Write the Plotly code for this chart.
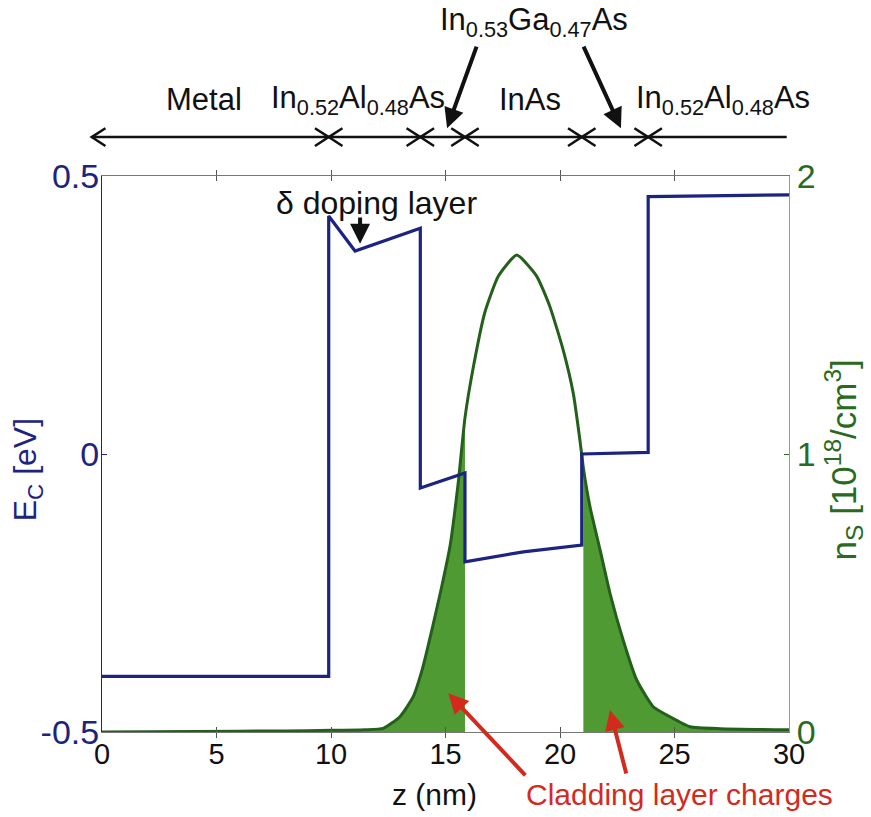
import plotly.graph_objects as go

# ---- conduction band edge E_C (eV) vs depth z (nm) ----
ec_z = [0, 9.9, 9.9, 11.05, 13.9, 13.9, 15.85, 15.85, 18.4, 20.95, 20.95, 23.85, 23.85, 30]
ec_val = [-0.40, -0.40, 0.428, 0.365, 0.406, -0.061, -0.034, -0.194, -0.176, -0.164, 0.0, 0.003, 0.463, 0.466]

# ---- electron density n_S (1e18 / cm^3) vs depth z (nm) ----
ns_z = [0, 4, 8, 10, 11.5, 12.28, 13.01, 13.59, 14.0, 14.47, 14.8, 15.2, 15.56, 15.85,
        16.21, 16.72, 17.31, 18.11, 18.98, 19.56, 20.14, 20.58, 20.87, 21.02, 21.31,
        21.75, 22.18, 22.76, 23.35, 24.07, 24.8, 25.68, 27.0, 30]
ns_val = [0.0, 0.002, 0.004, 0.006, 0.008, 0.013, 0.055, 0.127, 0.23, 0.39, 0.51, 0.67, 0.9, 1.13,
          1.31, 1.51, 1.64, 1.716, 1.64, 1.53, 1.374, 1.218, 1.05, 0.95, 0.81,
          0.655, 0.5, 0.33, 0.187, 0.091, 0.055, 0.019, 0.012, 0.008]

# cladding-layer limits used for the shaded charge regions
clad_left_end = 15.85
clad_right_start = 21.02

# layer boundaries along z and their labels
layer_edges = [-0.45, 9.9, 13.9, 15.85, 20.95, 23.85, 29.9]
layer_names = ["Metal", "In<sub>0.52</sub>Al<sub>0.48</sub>As", "InAs", "In<sub>0.52</sub>Al<sub>0.48</sub>As"]
layer_name_z = [4.45, 11.2, 18.7, 27.1]

# tick values
x_range = [0, 30]
x_ticks = [0, 5, 10, 15, 20, 25, 30]
ec_ticks = [-0.5, 0, 0.5]
ec_ticktext = ["-0.5", "0", "0.5"]
ns_ticks = [0, 1, 2]

NAVY = "#1c2480"
GREEN_LINE = "#24601c"
GREEN_FILL = "#4f9a33"
GREEN_TXT = "#2a6a1e"
RED = "#d42a1e"
INK = "#111111"
FONT = "Liberation Sans, Arial, sans-serif"


def zpaper(z):
    """Convert a depth along z into the x-paper fraction of the plot area."""
    return (z - x_range[0]) / (x_range[1] - x_range[0])


fig = go.Figure()

left_z = [z for z in ns_z if z <= clad_left_end]
left_n = [n for z, n in zip(ns_z, ns_val) if z <= clad_left_end]
right_z = [z for z in ns_z if z >= clad_right_start]
right_n = [n for z, n in zip(ns_z, ns_val) if z >= clad_right_start]

for zz, nn in ((left_z, left_n), (right_z, right_n)):
    fig.add_trace(go.Scatter(x=zz, y=nn, yaxis="y", mode="lines", fill="tozeroy",
                             fillcolor=GREEN_FILL,
                             line=dict(width=0, color=GREEN_FILL, shape="spline", smoothing=0.5),
                             hoverinfo="skip", showlegend=False))
fig.add_trace(go.Scatter(x=ns_z, y=ns_val, yaxis="y", mode="lines",
                         line=dict(color=GREEN_LINE, width=3, shape="spline", smoothing=0.5),
                         name="n_S", showlegend=False))
fig.add_trace(go.Scatter(x=ec_z, y=ec_val, yaxis="y2", mode="lines",
                         line=dict(color=NAVY, width=3.2), name="E_C", showlegend=False))

fig.update_layout(
    width=871, height=817,
    margin=dict(l=102, r=82, t=176, b=85),
    paper_bgcolor="white", plot_bgcolor="white",
    font=dict(family=FONT, size=28, color=INK),
    xaxis=dict(range=x_range, tickvals=x_ticks, ticks="inside", ticklen=5,
               tickcolor="#555", showline=True, linecolor="#777", linewidth=1,
               mirror="allticks", showgrid=False, zeroline=False,
               tickfont=dict(size=29, color=INK)),
    yaxis=dict(range=[0, 2], tickvals=ns_ticks, side="right", ticks="inside", ticklen=5,
               tickcolor=GREEN_TXT, showline=True, linecolor="#999", linewidth=1,
               showgrid=False, zeroline=False, tickfont=dict(size=34, color=GREEN_TXT)),
    yaxis2=dict(range=[-0.5, 0.5], tickvals=ec_ticks, ticktext=ec_ticktext, side="left",
                overlaying="y", ticks="inside", ticklen=5, tickcolor=NAVY,
                showline=True, linecolor=NAVY, linewidth=1, showgrid=False, zeroline=False,
                tickfont=dict(size=34, color=NAVY)),
)

# pull tick labels a little closer to the axes
try:
    fig.update_layout(xaxis_ticklabelstandoff=-4, yaxis2_ticklabelstandoff=-5)
except ValueError:
    pass

annotations = []
shapes = []


def label(text, x, y, xref="paper", yref="paper", size=28, color=INK, angle=0):
    annotations.append(dict(text=text, x=x, y=y, xref=xref, yref=yref, showarrow=False,
                            xanchor="center", yanchor="middle", textangle=angle,
                            font=dict(size=size, color=color)))


def arrow(x, y, ax, ay, xref, yref, color, width=4, ayref=None):
    annotations.append(dict(text="", x=x, y=y, xref=xref, yref=yref, ax=ax, ay=ay,
                            axref=xref, ayref=ayref or yref, showarrow=True, arrowhead=2,
                            arrowsize=1.0, arrowwidth=width, arrowcolor=color))


# axis titles
label("E<sub>C</sub> [eV]", -0.109, 0.471, size=32, color=NAVY, angle=-90)
label("n<sub>S</sub> [10<sup>18</sup>/cm<sup>3</sup>]", 1.079, 0.489, size=35, color=GREEN_TXT, angle=-90)
label("z (nm)", zpaper(14.5), -0.113, size=30)
label("Cladding layer charges", zpaper(25.2), -0.113, size=30, color=RED)

# red arrows pointing at the cladding charge regions
arrow(15.12, 0.139, 18.55, -0.161, "x", "y", RED)
arrow(22.18, 0.079, 22.91, -0.155, "x", "y", RED)

# delta doping label
label("\u03b4 doping layer", 12.0, 0.451, xref="x", yref="y2", size=32)
arrow(11.27, 0.378, 11.27, 0.428, "x", "y2", INK)

# layer bar across the top
bar_y = 1.070
chev_dx = 0.6
chev_dy = 0.0160
bar_line = dict(color=INK, width=2.5)
shapes.append(dict(type="line", xref="paper", yref="paper", x0=zpaper(layer_edges[0]),
                   x1=zpaper(layer_edges[-1]), y0=bar_y, y1=bar_y, line=bar_line))
for i in range(len(layer_edges) - 1):
    a, b = layer_edges[i], layer_edges[i + 1]
    shapes.append(dict(type="path", xref="paper", yref="paper", line=bar_line,
                       path=f"M {zpaper(a + chev_dx)},{bar_y + chev_dy} L {zpaper(a)},{bar_y} "
                            f"L {zpaper(a + chev_dx)},{bar_y - chev_dy}"))
    if i < len(layer_edges) - 2:
        shapes.append(dict(type="path", xref="paper", yref="paper", line=bar_line,
                           path=f"M {zpaper(b - chev_dx)},{bar_y + chev_dy} L {zpaper(b)},{bar_y} "
                                f"L {zpaper(b - chev_dx)},{bar_y - chev_dy}"))

for name, zc in zip(layer_names, layer_name_z):
    label(name, zpaper(zc), 1.137, size=31)

# the two InGaAs cladding layers share one label
label("In<sub>0.53</sub>Ga<sub>0.47</sub>As", zpaper(18.86), 1.277, size=31)
arrow(15.07, 1.086, 16.38, -83, "x", "paper", INK, ayref="pixel")
arrow(22.66, 1.086, 21.0, -83, "x", "paper", INK, ayref="pixel")

fig.update_layout(annotations=annotations, shapes=shapes)

fig.write_html("out.html")
